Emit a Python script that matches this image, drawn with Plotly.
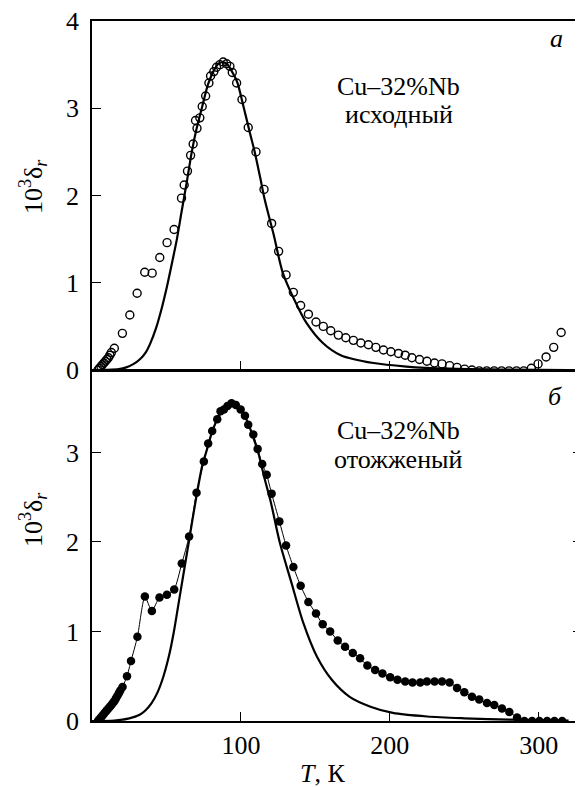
import plotly.graph_objects as go

# ---- data: panel a (as-received), open circles ----
T_a = [4, 5, 6, 7, 8, 9, 10, 11, 12, 13, 15,
       20.4, 25.4, 30.3, 35.4, 40.4, 45.5, 50.4, 55.1, 60.1, 61.9,
       64.1, 66.2, 67.9, 69.5, 70.5, 72.4, 74, 76.3, 78.5, 79.6,
       81.8, 83.6, 85.9, 88.1, 90.4, 92.6, 94.2, 97.1, 100.7, 104.9,
       110.1, 115.5, 120.6, 125.3, 130.3, 135.2, 140.1, 145.3, 150.4, 155.3,
       160.3, 165.4, 170.4, 175.5, 180.5, 185.6, 190.6, 195.7, 200.7, 205.8,
       210.3, 214.8, 219.9, 224.9, 230, 235, 240.1, 245.1, 250.2, 255.1,
       260, 265, 270, 275, 280, 285, 289.9, 295, 299.5, 304.9,
       310, 315]
v_a = [0, 0.02, 0.04, 0.06, 0.08, 0.1, 0.12, 0.14, 0.17, 0.2, 0.25,
       0.42, 0.63, 0.88, 1.12, 1.11, 1.29, 1.46, 1.61, 1.97, 2.12,
       2.28, 2.46, 2.59, 2.86, 2.77, 2.89, 3.02, 3.14, 3.29, 3.37,
       3.42, 3.47, 3.50, 3.53, 3.51, 3.48, 3.41, 3.29, 3.10, 2.78,
       2.50, 2.07, 1.68, 1.36, 1.09, 0.89, 0.74, 0.64, 0.55, 0.50,
       0.45, 0.40, 0.37, 0.34, 0.31, 0.29, 0.26, 0.23, 0.21, 0.19,
       0.17, 0.14, 0.12, 0.10, 0.08, 0.07, 0.05, 0.03, 0.01, 0.0,
       -0.01, -0.01, -0.01, -0.01, -0.01, -0.01, -0.01, 0.02, 0.07, 0.15,
       0.26, 0.43]

# fit curve, panel a
Tfit_a = [0, 10, 18, 23, 28, 32, 36, 39, 43, 47, 50, 54, 57, 60, 63.5, 67, 70, 74,
          78, 82, 85, 88, 91, 94, 97.5, 102, 106, 109.5, 113, 116, 122, 128, 136,
          144, 155, 167, 189, 211, 240, 280, 320]
vfit_a = [0, 0.002, 0.01, 0.03, 0.07, 0.12, 0.2, 0.3, 0.48, 0.72, 0.93, 1.25, 1.5,
          1.8, 2.14, 2.5, 2.75, 3.02, 3.28, 3.44, 3.51, 3.53, 3.5, 3.42, 3.3, 3.0,
          2.72, 2.48, 2.2, 1.95, 1.55, 1.12, 0.8, 0.54, 0.31, 0.17, 0.08, 0.04,
          0.015, 0.005, 0]

# ---- data: panel б (annealed), filled circles ----
T_b = [4, 5, 6, 7, 8, 9, 10, 11, 12, 13, 14, 15, 16, 17, 18, 19, 20.5,
       23.5, 26.2, 30.5, 35.5, 40.2, 45.3, 50.3, 55.2, 60.3, 65.2,
       70.2, 75.1, 78, 80.7, 84.1, 86.3, 88.6, 91, 93.7, 96.6,
       99.8, 102.7, 104.9, 108.3, 111.2, 114.3, 117.3, 120.6, 125.8, 130.3,
       135.2, 140.1, 145.3, 150.4, 154.9, 159.9, 165, 169.9, 175.1, 180,
       184.9, 190.1, 195, 200.2, 205.1, 210.3, 215.2, 220.4, 224.9, 230,
       235, 240.1, 245.1, 250, 255.1, 260, 265.2, 270.1, 275.3, 280.2,
       285.4, 290.3, 295.5, 300.4, 305.6, 310.5, 315.7]
v_b = [0.0, 0.02, 0.04, 0.06, 0.08, 0.1, 0.12, 0.14, 0.16, 0.18, 0.2, 0.22, 0.25, 0.28, 0.31, 0.34, 0.38,
       0.50, 0.67, 0.94, 1.39, 1.23, 1.38, 1.41, 1.47, 1.76, 2.06,
       2.55, 2.90, 3.10, 3.24, 3.37, 3.46, 3.48, 3.52, 3.55, 3.53,
       3.48, 3.41, 3.31, 3.20, 3.04, 2.87, 2.75, 2.54, 2.23, 1.96,
       1.72, 1.51, 1.33, 1.20, 1.08, 1.00, 0.90, 0.83, 0.76, 0.70,
       0.62, 0.57, 0.53, 0.49, 0.46, 0.44, 0.43, 0.43, 0.44, 0.44,
       0.44, 0.43, 0.37, 0.32, 0.27, 0.24, 0.20, 0.18, 0.14, 0.10,
       0.04, 0.0, 0.0, 0.0, 0.0, 0.0, 0.0]

Tfit_b = [0, 15, 25, 32, 36, 40, 44, 48, 52, 55, 58, 61, 65, 70, 74, 77.5, 81, 85, 89,
          93, 97, 101, 105, 108, 111.6, 116, 120, 126, 134, 142, 151, 161, 173, 187,
          202, 225, 250, 280, 320]
vfit_b = [0, 0.005, 0.03, 0.07, 0.12, 0.2, 0.32, 0.5, 0.75, 1.0, 1.3, 1.6, 2.0, 2.5,
          2.85, 3.05, 3.25, 3.4, 3.51, 3.55, 3.52, 3.45, 3.32, 3.18, 3.0, 2.7, 2.45,
          2.0, 1.54, 1.09, 0.72, 0.46, 0.27, 0.16, 0.09, 0.05, 0.03, 0.015, 0.005]

x_ticks = [100, 200, 300]
ya_ticks = [0, 1, 2, 3, 4]
yb_ticks = [0, 1, 2, 3]

FONT = "Liberation Serif"
FS = 26

fig = go.Figure()
fig.add_trace(go.Scatter(x=T_a, y=v_a, mode="markers", xaxis="x", yaxis="y",
                         marker=dict(symbol="circle-open", size=8, color="black",
                                     line=dict(width=1.4, color="black"))))
fig.add_trace(go.Scatter(x=Tfit_a, y=vfit_a, mode="lines", xaxis="x", yaxis="y",
                         line=dict(color="black", width=2.2, shape="spline", smoothing=0.8)))
fig.add_trace(go.Scatter(x=T_b, y=v_b, mode="lines+markers", xaxis="x2", yaxis="y2",
                         line=dict(color="black", width=1, shape="spline", smoothing=0.6),
                         marker=dict(symbol="circle", size=8.5, color="black")))
fig.add_trace(go.Scatter(x=Tfit_b, y=vfit_b, mode="lines", xaxis="x2", yaxis="y2",
                         line=dict(color="black", width=2.2, shape="spline", smoothing=0.8)))

axis_common = dict(showgrid=False, zeroline=False, showline=True, linecolor="black",
                   linewidth=1.5, ticks="inside", tickcolor="black", tickwidth=1.2,
                   ticklen=9, automargin=False, ticklabeloverflow="allow",
                   tickfont=dict(family=FONT, size=FS, color="black"))

# the page body adds an 8 px offset, so margins are reduced by 8 px
fig.update_layout(
    width=575, height=779,
    margin=dict(l=84, r=1, t=13, b=66, autoexpand=False),
    plot_bgcolor="white", paper_bgcolor="white",
    showlegend=False,
    font=dict(family=FONT, size=FS, color="black"),
    xaxis=dict(domain=[0, 1], anchor="y", range=[0, 329], tickvals=x_ticks,
               showticklabels=False, mirror=True, **axis_common),
    yaxis=dict(domain=[0.5014, 1], anchor="x", range=[0, 4], tickvals=ya_ticks,
               mirror=True, ticklabelstandoff=6, **axis_common),
    xaxis2=dict(domain=[0, 1], anchor="y2", range=[0, 329], tickvals=x_ticks,
                mirror=True, ticklabelstandoff=0, **axis_common),
    yaxis2=dict(domain=[0, 0.5], anchor="x2", range=[0, 3.91], tickvals=yb_ticks,
                mirror="allticks", ticklabelstandoff=6, **axis_common),
)

def xp(px):
    return (px - 92) / 490.0

def yp(py):
    return (721 - py) / 700.0

ann = []
def A(text, x, y, xref, yref, **kw):
    d = dict(text=text, x=x, y=y, xref=xref, yref=yref, showarrow=False,
             xanchor="center", yanchor="middle",
             font=dict(family=FONT, size=FS, color="black"))
    d.update(kw)
    ann.append(d)

A("Cu–32%Nb", 206, 3.25, "x", "y")
A("исходный", 206, 2.93, "x", "y")
A("<i>a</i>", 312, 3.8, "x", "y")
A("Cu–32%Nb", 206, 3.24, "x2", "y2")
A("отожженый", 206, 2.925, "x2", "y2")
A("<i>б</i>", 311, 3.62, "x2", "y2")
A("10<sup>3</sup>δ<sub><i>r</i></sub>", xp(33), yp(187), "paper", "paper", textangle=-90)
A("10<sup>3</sup>δ<sub><i>r</i></sub>", xp(33), yp(520), "paper", "paper", textangle=-90)
A("<i>T</i>, К", 155, yp(774), "x2", "paper")
fig.update_layout(annotations=ann)

fig.write_html("out.html")
